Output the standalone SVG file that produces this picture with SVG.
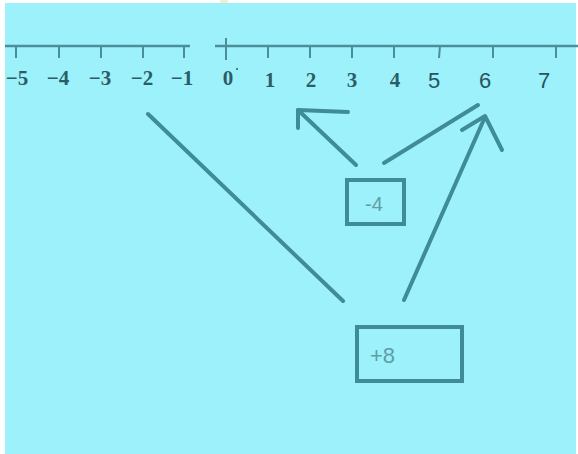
<svg xmlns="http://www.w3.org/2000/svg" width="578" height="454" viewBox="0 0 578 454">
  <style>
    .axis { stroke: #4a8f98; stroke-width: 2.5; fill: none; }
    .tick { stroke: #4a8f98; stroke-width: 2; }
    .ser { font-family: "Liberation Serif", serif; font-size: 21px; font-weight: bold; fill: #2b5d66; text-anchor: middle; }
    .sans { font-family: "Liberation Sans", sans-serif; font-size: 22px; fill: #26545c; text-anchor: middle; }
    .conn { stroke: #3f8c96; stroke-width: 4; stroke-linecap: round; stroke-linejoin: round; fill: none; }
    .box { stroke: #3f8c96; stroke-width: 4; fill: none; }
    .lbl { font-family: "Liberation Sans", sans-serif; fill: #5f9ea5; }
  </style>
  <rect x="0" y="0" width="578" height="454" fill="#ffffff"/>
  <rect x="5" y="3" width="571" height="451" fill="#9cf1fb"/>
  <rect x="220" y="0" width="8" height="3" fill="#f6ead0"/>

  <g id="numberline-negative">
    <line class="axis" x1="5" y1="46" x2="190" y2="46"/>
    <line class="tick" x1="16" y1="46" x2="16" y2="58"/>
    <line class="tick" x1="59" y1="46" x2="59" y2="58"/>
    <line class="tick" x1="101" y1="46" x2="101" y2="58"/>
    <line class="tick" x1="143" y1="46" x2="143" y2="58"/>
    <line class="tick" x1="184" y1="46" x2="184" y2="58"/>
    <text class="ser" x="17" y="85">−5</text>
    <text class="ser" x="58" y="85">−4</text>
    <text class="ser" x="100" y="85">−3</text>
    <text class="ser" x="142" y="85">−2</text>
    <text class="ser" x="182" y="85">−1</text>
  </g>

  <g id="numberline-positive">
    <line class="axis" x1="215" y1="46" x2="578" y2="46"/>
    <line class="tick" x1="226" y1="38" x2="226" y2="60"/>
    <line class="tick" x1="268" y1="46" x2="268" y2="58"/>
    <line class="tick" x1="310" y1="46" x2="310" y2="58"/>
    <line class="tick" x1="352" y1="46" x2="352" y2="58"/>
    <line class="tick" x1="394" y1="46" x2="394" y2="58"/>
    <line class="tick" x1="440" y1="46" x2="439" y2="58"/>
    <line class="tick" x1="493" y1="46" x2="493" y2="58"/>
    <line class="tick" x1="556" y1="46" x2="556" y2="58"/>
    <text class="ser" x="228" y="85">0</text>
    <circle cx="237" cy="69" r="1" fill="#2b5d66"/>
    <text class="ser" x="270" y="87">1</text>
    <text class="ser" x="311" y="87">2</text>
    <text class="ser" x="352" y="87">3</text>
    <text class="ser" x="395" y="87">4</text>
    <text class="sans" x="434" y="88">5</text>
    <text class="sans" x="485" y="88">6</text>
    <text class="sans" x="544" y="88">7</text>
  </g>

  <g id="connectors">
    <line class="conn" x1="148" y1="114" x2="343" y2="301"/>
    <line class="conn" x1="356" y1="165" x2="298" y2="110"/>
    <polyline class="conn" points="348,112 298,110 298,128"/>
    <line class="conn" x1="384" y1="163" x2="478" y2="105"/>
    <line class="conn" x1="404" y1="300" x2="485" y2="117"/>
    <polyline class="conn" points="462,130 485,116 502,150"/>
  </g>

  <g id="node-minus4">
    <rect class="box" x="347" y="180" width="57" height="44"/>
    <text class="lbl" x="374" y="211" font-size="20" text-anchor="middle">-4</text>
  </g>

  <g id="node-plus8">
    <rect class="box" x="357" y="327" width="105" height="54"/>
    <text class="lbl" x="370" y="363" font-size="22">+8</text>
  </g>
</svg>
